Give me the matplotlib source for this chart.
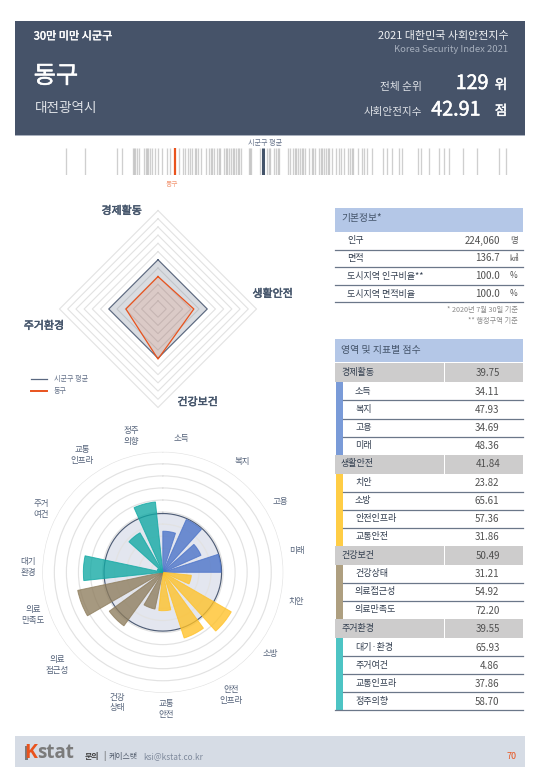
import numpy as np
import matplotlib
matplotlib.use("Agg")
import matplotlib.pyplot as plt
import matplotlib.patheffects as pe
from matplotlib.patches import Rectangle

plt.rcParams['font.family'] = ['Noto Sans CJK KR', 'DejaVu Sans']

W, H = 540, 780
NAVY = '#44546a'
ORANGE = '#e9531d'

# ---------- data ----------
region = '동구'
province = '대전광역시'
group_label = '30만 미만 시군구'
rank = '129'
index_score = '42.91'
avg_label = '시군구 평균'

strip_scores = [36.57, 37.71, 39.57, 39.83, 40.45, 40.53, 40.61, 40.71, 40.81, 41.13, 41.21, 41.29, 41.37, 41.47, 41.55,
                41.75, 41.95, 42.15, 42.43, 42.65, 43.15, 43.35, 43.49, 43.65, 43.79, 43.89, 44.05, 44.15, 44.25, 44.45,
                44.69, 44.89, 44.99, 45.09, 45.19, 45.35, 45.45, 45.55, 45.75, 45.85, 45.95, 46.05, 46.15, 46.27, 46.35,
                46.47, 46.55, 46.65, 46.75, 47.19, 47.27, 47.35, 47.85, 48.25, 48.35, 48.45, 48.67, 48.77, 48.87, 48.97,
                49.49, 49.59, 49.75, 49.87, 49.95, 50.07, 50.17, 50.27, 50.37, 50.47, 50.67, 50.85, 50.95, 51.05, 51.27,
                51.37, 51.47, 51.57, 51.67, 51.77, 51.87, 52.05, 52.25, 52.45, 52.55, 52.75, 52.97, 53.07, 53.17, 53.27,
                53.55, 53.75, 53.91, 54.05, 54.35, 55.01, 55.25, 55.49, 55.95, 56.11, 57.05, 57.19, 57.65, 58.25, 58.55,
                58.81, 59.61, 60.45, 61.75, 62.15]
strip_region = 42.91
strip_avg = 48.03

domains = ['경제활동', '생활안전', '건강보건', '주거환경']
domain_scores = [39.75, 41.84, 50.49, 39.55]
domain_avg = [50, 50, 50, 50]

econ_names = ['소득', '복지', '고용', '미래']
econ_scores = [34.11, 47.93, 34.69, 48.36]
safe_names = ['치안', '소방', '안전인프라', '교통안전']
safe_scores = [23.82, 65.61, 57.36, 31.86]
health_names = ['건강상태', '의료접근성', '의료만족도']
health_scores = [31.21, 54.92, 72.20]
live_names = ['대기·환경', '주거여건', '교통인프라', '정주의향']
live_scores = [65.93, 4.86, 37.86, 58.70]

rose_labels = ['소득', '복지', '고용', '미래', '치안', '소방', '안전\n인프라', '교통\n안전', '건강\n상태',
               '의료\n접근성', '의료\n만족도', '대기\n환경', '주거\n여건', '교통\n인프라', '정주\n의향']
rose_avg = 48.8

info_names = ['인구', '면적', '도시지역 인구비율**', '도시지역 면적비율']
info_values = ['224,060', '136.7', '100.0', '100.0']
info_units = ['명', '㎢', '%', '%']

# ---------- layout ----------
fig = plt.figure(figsize=(W / 100, H / 100), dpi=100, facecolor='white')
bg = fig.add_axes([0, 0, 1, 1], zorder=0)
bg.set_xlim(0, W)
bg.set_ylim(H, 0)
bg.axis('off')


def px_axes(cx, cy, r, **kw):
    return fig.add_axes([(cx - r) / W, 1 - (cy + r) / H, 2 * r / W, 2 * r / H], **kw)


def rect(x0, y0, x1, y1, color, **kw):
    bg.add_patch(Rectangle((x0, y0), x1 - x0, y1 - y0, facecolor=color, edgecolor='none', **kw))


def txt(x, y, s, size, color=NAVY, ha='left', weight='normal', stroke=0, **kw):
    t = bg.text(x, y, s, fontsize=size, color=color, ha=ha, va='center', fontweight=weight, **kw)
    if stroke:
        t.set_path_effects([pe.withStroke(linewidth=stroke, foreground=color)])
    return t


# ---------- header ----------
rect(14.5, 21, 525, 135, '#465369')
rect(14.5, 135, 525, 136, '#a9b0bd')
txt(33.7, 36.5, group_label, 8.0, 'white', stroke=0.3)
txt(509, 36.5, '2021 대한민국 사회안전지수', 7.9, '#eef0f3', ha='right')
txt(508, 50, 'Korea Security Index 2021', 6.8, '#a6afbd', ha='right')
txt(33.7, 76, region, 17.4, 'white', stroke=0.4)
txt(34.4, 108, province, 9.8, '#dfe2e7')
txt(421.8, 87, '전체 순위', 7.7, '#dfe2e7', ha='right')
txt(421.8, 112.5, '사회안전지수', 7.6, '#dfe2e7', ha='right')
txt(488.5, 83.5, rank, 14.2, 'white', ha='right', stroke=0.4)
txt(480.5, 110, index_score, 14.2, 'white', ha='right', stroke=0.4)
txt(501, 85, '위', 9.8, 'white', ha='center', stroke=0.3)
txt(501, 111, '점', 9.8, 'white', ha='center', stroke=0.3)

# ---------- barcode strip ----------
strip = fig.add_axes([0, 1 - 175 / H, 1, 27 / H], zorder=1)
strip.set_xlim(32.75, 64.11)
strip.set_ylim(0, 1)
strip.axis('off')
strip.vlines(strip_scores, 0, 1, color='#a0a0a0', alpha=0.5, lw=0.95)
strip.vlines([strip_region], 0, 1, color=ORANGE, lw=1.6)
strip.vlines([strip_avg], 0, 1, color=NAVY, lw=2.2)
txt(265, 142.6, avg_label, 5.1, '#66738a', ha='center')
txt(171.5, 183.8, region, 4.9, '#f39a78', ha='center')

# ---------- radar ----------
radar = px_axes(158, 309, 98.5, projection='polar', zorder=2)
radar.patch.set_alpha(0)
radar.set_theta_zero_location('N')
radar.set_theta_direction(-1)
radar.set_ylim(20, 80)
radar.set_xticks([])
radar.set_yticks([])
radar.grid(False)
radar.spines['polar'].set_visible(False)
corners = np.deg2rad([0, 90, 180, 270, 0])
for level in np.arange(25, 85, 5):
    radar.plot(corners, [level] * 5, color='#e2e2e2', lw=0.8, zorder=1, clip_on=False)
avg_closed = domain_avg + domain_avg[:1]
score_closed = domain_scores + domain_scores[:1]
radar.fill(corners, avg_closed, color=NAVY, alpha=0.2, lw=0, zorder=2)
radar.plot(corners, avg_closed, color='#5a6880', lw=0.8, zorder=3)
radar.fill(corners, score_closed, color=ORANGE, alpha=0.13, lw=0, zorder=4)
radar.plot(corners, score_closed, color=ORANGE, lw=0.9, zorder=5)

for (x, y), name in zip([(121.7, 211), (272.7, 294), (197.7, 402.3), (44, 326)], domains):
    txt(x, y, name, 7.9, NAVY, ha='center', stroke=0.35)

bg.plot([30.7, 47.3], [379.3, 379.3], color='#5a6880', lw=0.9)
bg.plot([30.7, 47.3], [391, 391], color=ORANGE, lw=1.4)
txt(53.7, 379.3, avg_label, 5.1, '#66738a')
txt(53.7, 391, region, 5.1, '#66738a')

# ---------- rose ----------
rose = px_axes(162.8, 572.3, 120.5, projection='polar', zorder=2)
rose.patch.set_alpha(0)
rose.set_theta_zero_location('N')
rose.set_theta_direction(-1)
rose.set_ylim(0, 100)
rose.set_xticks([])
rose.set_yticks(np.arange(10, 101, 10))
rose.set_yticklabels([])
rose.tick_params(axis='y', length=0)
rose.grid(True, axis='y', color='#e2e2e2', lw=0.85)
rose.set_axisbelow('line')
rose.spines['polar'].set_visible(False)

circle_t = np.linspace(0, 2 * np.pi, 361)
rose.fill(circle_t, np.full(361, rose_avg), color='#e3e6ef', lw=0, zorder=1)
rose.plot(circle_t, np.full(361, rose_avg), color='#4f5d76', lw=0.85, zorder=1.8)

rose_groups = [(econ_scores, '#4a72c8'), (safe_scores, '#ffc126'), (health_scores, '#8d7c5c'), (live_scores, '#10a8a3')]
rose_vals, rose_cols = [], []
for vals, col in rose_groups:
    rose_vals += vals
    rose_cols += [col] * len(vals)
starts = np.deg2rad(np.arange(len(rose_vals)) * 24)
rose.bar(starts, rose_vals, width=np.deg2rad(18), align='edge', color=rose_cols, alpha=0.78,
         edgecolor=rose_cols, linewidth=0.7, zorder=2)

label_angles = [8, 35.7, 58.8, 80.8, 102.5, 127, 151, 178.4, 199.3, 228.8, 251.8, 272.4, 297.4, 325.5, 347]
label_radii = [112.5, 113.5, 114, 113, 113, 112, 116.5, 113.5, 114.5, 116.5, 113.5, 112, 114, 118, 116]
for a, r, s in zip(label_angles, label_radii, rose_labels):
    rose.text(np.deg2rad(a), r, s, fontsize=6.1, color='#55637a', ha='center', va='center',
              linespacing=1.25, clip_on=False)

# ---------- basic info table ----------
rect(335, 208.3, 523, 231.7, '#b4c7e7')
txt(341, 218.5, '기본정보*', 7.0, NAVY)
info_rows = [240.7, 258.3, 276, 294]
info_lines = [250, 267.3, 285, 302.3]
for y, ly, n, v, u in zip(info_rows, info_lines, info_names, info_values, info_units):
    txt(347, y, n, 6.5, '#333f50')
    txt(499.7, y, v, 7.0, '#505050', ha='right')
    txt(514, y, u, 6.0, '#505050', ha='center')
    bg.plot([335, 523], [ly, ly], color='#6b7789', lw=0.9)
txt(517.7, 310, '* 2020년 7월 30일 기준', 5.2, '#8a8a8a', ha='right')
txt(517.7, 320.8, '** 행정구역 기준', 5.2, '#8a8a8a', ha='right')

# ---------- score table ----------
rect(335, 338.7, 523, 362, '#b4c7e7')
txt(341, 350, '영역 및 지표별 점수', 7.1, NAVY)

strip_cols = ['#7a9bd8', '#ffcd45', '#ae9f80', '#4dc4c4']
y = 363.3
band_h, row_h = 19.1, 18.05
groups = [(econ_names, econ_scores), (safe_names, safe_scores), (health_names, health_scores), (live_names, live_scores)]
for dname, dscore, (names, scores), scol in zip(domains, domain_scores, groups, strip_cols):
    rect(335, y, 444.2, y + band_h, '#cdcccc')
    rect(444.6, y, 523, y + band_h, '#cdcccc')
    txt(341, y + 9.2, dname, 6.5, '#333f50')
    txt(500, y + 9.6, f'{dscore:.2f}', 7.0, '#505050', ha='right')
    y += band_h
    rect(335.5, y, 343.2, y + row_h * len(names), scol)
    for j, (n, s) in enumerate(zip(names, scores)):
        cy = y + row_h * (j + 0.5)
        txt(355, cy - 0.2, n, 6.5, '#333f50')
        txt(499.5, cy + 0.4, f'{s:.2f}', 7.0, '#505050', ha='right')
        if j < len(names) - 1:
            bg.plot([343.2, 523], [y + row_h * (j + 1)] * 2, color='#6b7789', lw=0.9)
    y += row_h * len(names)
bg.plot([335, 523], [y - 0.8, y - 0.8], color='#6b7789', lw=0.9)

# ---------- footer ----------
rect(14.5, 736, 525, 767, '#d6dce5')
txt(37.5, 752.5, 'stat', 13.5, '#7b7b7b', weight='bold', family=['Open Sans', 'DejaVu Sans'])
txt(24, 752.5, 'K', 14, ORANGE, weight='bold', family=['Open Sans', 'DejaVu Sans'])
rect(25.3, 745.5, 28.3, 760, '#7b7b7b')
txt(84.4, 756.3, '문의', 5.7, '#404040', weight='bold')
txt(104.3, 756, '|', 6, '#404040', ha='center')
txt(109, 756.3, '케이스탯', 5.7, '#505a6a')
txt(143, 756.3, 'ksi@kstat.co.kr', 6.0, '#7f8a9c')
txt(512, 756.3, '70', 6.5, ORANGE, ha='center')

fig.savefig('out.png', dpi=100, facecolor='white')
